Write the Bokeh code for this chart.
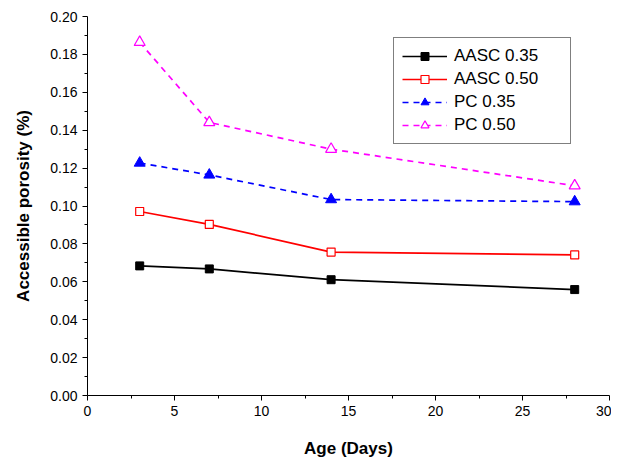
from bokeh.plotting import figure
from bokeh.models import Range1d, Legend, LegendItem, NumeralTickFormatter, FixedTicker
from bokeh.embed import file_html
from bokeh.resources import INLINE

days = [3, 7, 14, 28]
aasc_035 = [0.0684, 0.0668, 0.0611, 0.0559]
aasc_050 = [0.0971, 0.0903, 0.0757, 0.0742]
pc_035 = [0.1227, 0.1164, 0.1034, 0.1023]
pc_050 = [0.1864, 0.1441, 0.1300, 0.1107]
x_ticks = [0, 5, 10, 15, 20, 25, 30]
y_ticks = [0.00, 0.02, 0.04, 0.06, 0.08, 0.10, 0.12, 0.14, 0.16, 0.18, 0.20]

p = figure(width=611, height=460, output_backend="svg", toolbar_location=None,
           x_range=Range1d(0, 30), y_range=Range1d(0, 0.20),
           min_border_left=87, min_border_right=2, min_border_top=16, min_border_bottom=61)
p.outline_line_color = None
p.xgrid.visible = False
p.ygrid.visible = False

FONT = "Liberation Sans"

r1l = p.line(days, aasc_035, line_color="black", line_width=1.7)
r1m = p.scatter(days, aasc_035, marker="square", size=8, fill_color="black", line_color="black")
r2l = p.line(days, aasc_050, line_color="#FF0000", line_width=1.7)
r2m = p.scatter(days, aasc_050, marker="square", size=8, fill_color="white", line_color="#FF0000", line_width=1.2)
r3l = p.line(days, pc_035, line_color="#0000FF", line_width=1.7, line_dash="6 5")
r3m = p.scatter(days, pc_035, marker="triangle", size=11, fill_color="#0000FF", line_color="#0000FF")
r4l = p.line(days, pc_050, line_color="#FF00FF", line_width=1.7, line_dash="6 5")
r4m = p.scatter(days, pc_050, marker="triangle", size=11, fill_color="white", line_color="#FF00FF", line_width=1.2)

legend = Legend(items=[
    LegendItem(label="AASC 0.35", renderers=[r1l, r1m]),
    LegendItem(label="AASC 0.50", renderers=[r2l, r2m]),
    LegendItem(label="PC 0.35", renderers=[r3l, r3m]),
    LegendItem(label="PC 0.50", renderers=[r4l, r4m]),
], location=(306, 251))
legend.border_line_color = "black"
legend.border_line_width = 1
legend.background_fill_color = "white"
legend.padding = 8
legend.margin = 0
legend.spacing = 3
legend.glyph_width = 45
legend.glyph_height = 20
legend.label_height = 20
legend.label_width = 108
legend.label_standoff = 7
legend.label_text_font = FONT
legend.label_text_font_size = "17px"
legend.label_text_color = "black"
p.add_layout(legend, "center")

for ax in (p.xaxis[0], p.yaxis[0]):
    ax.axis_line_color = "black"
    ax.axis_line_width = 1
    ax.major_tick_line_color = "black"
    ax.minor_tick_line_color = "black"
    ax.major_tick_out = 5
    ax.major_tick_in = 0
    ax.minor_tick_out = 3
    ax.minor_tick_in = 0
    ax.major_label_text_font = FONT
    ax.major_label_text_font_size = "14px"
    ax.major_label_text_color = "black"
    ax.axis_label_text_font = FONT
    ax.axis_label_text_font_size = "17px"
    ax.axis_label_text_font_style = "bold"
    ax.axis_label_text_color = "black"

p.xaxis[0].ticker = FixedTicker(ticks=x_ticks, minor_ticks=[2.5 + 5 * i for i in range(6)])
p.yaxis[0].ticker = FixedTicker(ticks=y_ticks, minor_ticks=[0.01 + 0.02 * i for i in range(10)])
p.yaxis[0].formatter = NumeralTickFormatter(format="0.00")
p.xaxis[0].axis_label = "Age (Days)"
p.yaxis[0].axis_label = "Accessible porosity (%)"
p.xaxis[0].axis_label_standoff = 20
p.yaxis[0].axis_label_standoff = 14

open("out.html", "w").write(file_html(p, INLINE))
